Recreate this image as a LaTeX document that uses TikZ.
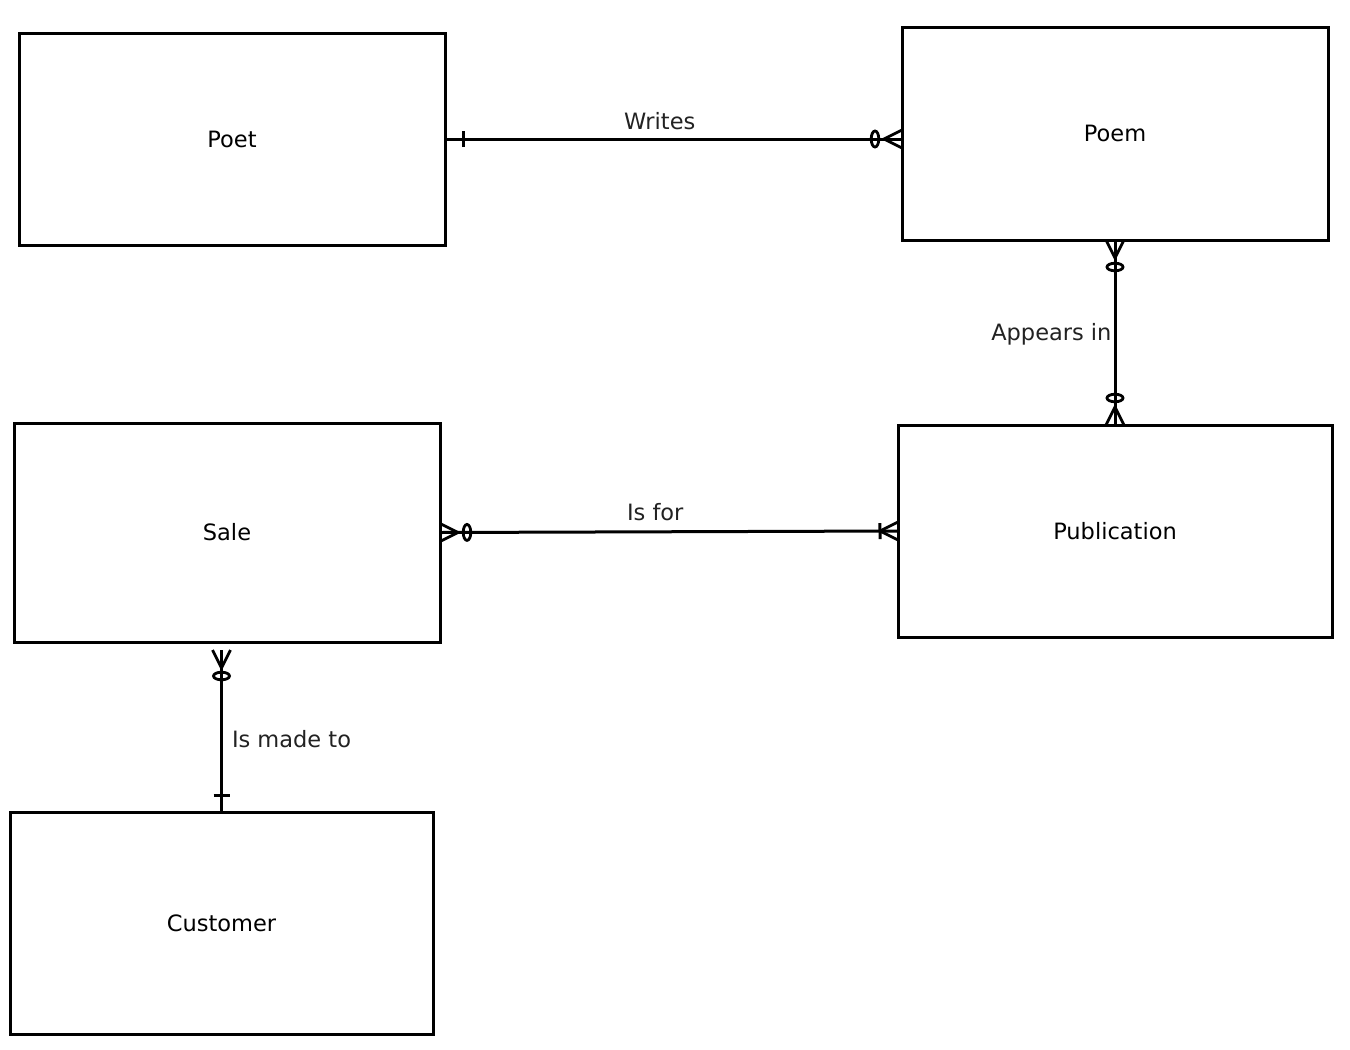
\documentclass[tikz,border=0pt]{standalone}
\usepackage{fontspec}
\setmainfont{DejaVu Sans}
\usetikzlibrary{positioning, calc, decorations.markings}
\definecolor{erblack}{HTML}{000000}
\definecolor{ergray}{HTML}{222222}

\begin{document}
\begin{tikzpicture}[
  x=1pt, y=1pt,
  every node/.style={font=\fontsize{22.5}{27}\selectfont},
  entity/.style={rectangle, draw=erblack, line width=3pt, minimum width=426pt, minimum height=212pt, inner sep=0pt, outer sep=0pt, align=center},
  rel/.style={draw=erblack, line width=3pt},
  lbl/.style={text=ergray, inner sep=2pt},
  bar at/.style={postaction={decorate, decoration={markings,
    mark=at position #1 with {\draw[line width=3pt] (0,-8pt) -- (0,8pt);}}}},
  ring at/.style={postaction={decorate, decoration={markings,
    mark=at position #1 with {\draw[line width=2.8pt] (0,0) ellipse (3.8pt and 8pt);}}}},
  crow start/.style={postaction={decorate, decoration={markings,
    mark=at position 18pt with {\draw[line width=2.8pt] (-18pt,9pt) -- (0,0) -- (-18pt,-9pt);}}}},
  crow end/.style={postaction={decorate, decoration={markings,
    mark=at position -18pt with {\draw[line width=2.8pt] (18pt,9pt) -- (0,0) -- (18pt,-9pt);}}}},
]
\useasboundingbox (0,0) rectangle (1350,-1050);

\node[entity] (poet) at (232,-139) {Poet};
\node[entity, minimum height=213pt, right=457pt of poet, yshift=5.5pt] (poem) {Poem};
\node[entity, minimum width=434pt, below=185pt of poem] (publication) {Publication};
\node[entity, minimum height=219pt, left=458pt of publication, yshift=-1.5pt] (sale) {Sale};
\node[entity, minimum width=423pt, minimum height=222pt, below=170pt of sale, xshift=-5.5pt] (customer) {Customer};

% gap below the sale box
\coordinate (saleend) at ($(customer.north |- sale.south)+(0,-8pt)$);

\draw[rel, bar at=18pt, ring at=-27pt, crow end] (poet.east) -- node[lbl, above=6pt, pos=0.47] {Writes} (poet.east -| poem.west);
\draw[rel, crow start, ring at=27pt, ring at=-27pt, crow end] (poem.south) -- node[lbl, left, pos=0.51] {Appears in} (publication.north);
\draw[rel, crow start, ring at=27pt, bar at=-18pt, crow end] (sale.east) -- node[lbl, above=7pt, pos=0.47] {Is for} (publication.west);
\draw[rel, crow start, ring at=26pt, bar at=-17pt] (saleend) -- node[lbl, right, pos=0.55, inner sep=9pt] {Is made to} (customer.north);

\end{tikzpicture}
\end{document}
